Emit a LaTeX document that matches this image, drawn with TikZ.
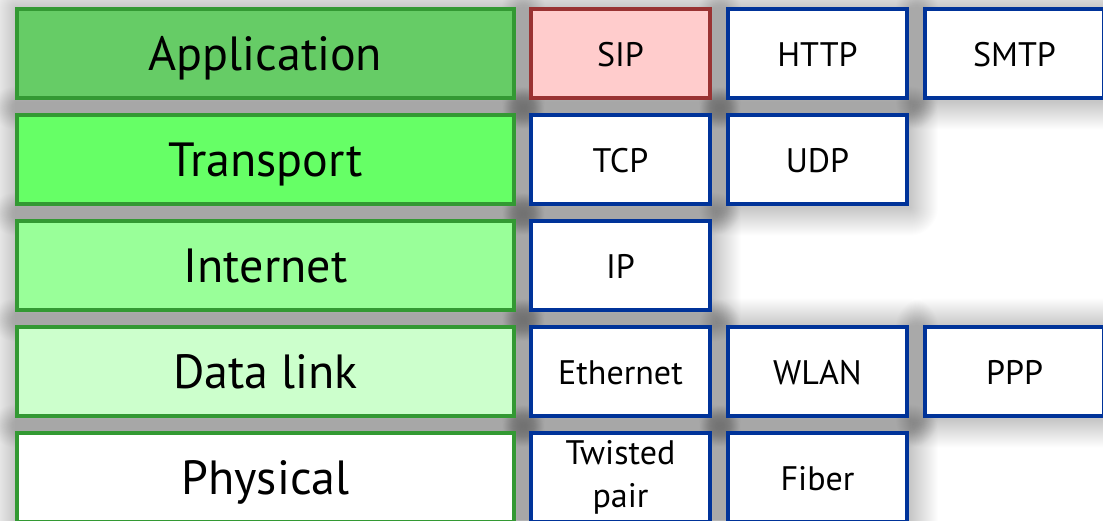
\documentclass[tikz,border=0pt]{standalone}
\usepackage{fontspec}
\setmainfont{PT Sans}
\usetikzlibrary{backgrounds}

\definecolor{appfill}{HTML}{66CC66}
\definecolor{trafill}{HTML}{66FF66}
\definecolor{intfill}{HTML}{99FF99}
\definecolor{dlfill}{HTML}{CCFFCC}
\definecolor{layeredge}{HTML}{339933}
\definecolor{protoedge}{HTML}{003399}
\definecolor{sipfill}{HTML}{FFCCCC}
\definecolor{sipedge}{HTML}{993333}

\tikzset{
  layer/.style={draw=layeredge, line width=4pt, minimum width=497pt,
      minimum height=89pt, inner sep=0pt,
      text height=34pt, text depth=0pt,
      font=\fontsize{48}{54}\selectfont},
  protobase/.style={draw=protoedge, fill=white, line width=4pt, minimum width=179pt,
      minimum height=89pt, inner sep=0pt, align=center,
      font=\fontsize{34}{43}\selectfont},
  proto/.style={protobase, text height=25pt, text depth=0pt},
  shadowring/.style={fill=black, opacity=0.0065},
}

\begin{document}
\begin{tikzpicture}[x=1pt, y=-1pt]
  \useasboundingbox (0,0) rectangle (1103,520);
  \clip (0,0) rectangle (1103,520);

  % layer column
  \node[layer, fill=appfill] (app) at (265.5,53.5)  {Application};
  \node[layer, fill=trafill] (tra) at (265.5,159.5) {Transport};
  \node[layer, fill=intfill] (int) at (265.5,265.5) {Internet};
  \node[layer, fill=dlfill]  (dl)  at (265.5,371.5) {Data link};
  \node[layer, fill=white]   (phy) at (265.5,477.5) {Physical};

  % protocols per layer
  \node[proto, fill=sipfill, draw=sipedge] (sip) at (620.5,53.5) {SIP};
  \node[proto] (http) at (817.5,53.5)  {HTTP};
  \node[proto] (smtp) at (1014.5,53.5) {SMTP};

  \node[proto] (tcp) at (620.5,159.5) {TCP};
  \node[proto] (udp) at (817.5,159.5) {UDP};

  \node[proto] (ip) at (620.5,265.5) {IP};

  \node[proto] (eth)  at (620.5,371.5)  {Ethernet};
  \node[proto] (wlan) at (817.5,371.5)  {WLAN};
  \node[proto] (ppp)  at (1014.5,371.5) {PPP};

  \node[protobase] (tp)    at (620.5,477.5) {Twisted\\pair};
  \node[proto]     (fiber) at (817.5,477.5) {Fiber};

  % soft drop shadows: stacked translucent layers behind every box
  \begin{pgfonlayer}{background}
    \fill[white] (0,0) rectangle (1103,520);
    \foreach \n in {app,tra,int,dl,phy,sip,http,smtp,tcp,udp,ip,eth,wlan,ppp,tp,fiber}{
      \foreach \k in {1,...,28}{
        \fill[shadowring, rounded corners=\k pt]
          ([shift={(-\k pt+1pt,\k pt-1.5pt)}]\n.north west) rectangle
          ([shift={(\k pt+1pt,-\k pt-1.5pt)}]\n.south east);
      }
    }
  \end{pgfonlayer}
\end{tikzpicture}
\end{document}
